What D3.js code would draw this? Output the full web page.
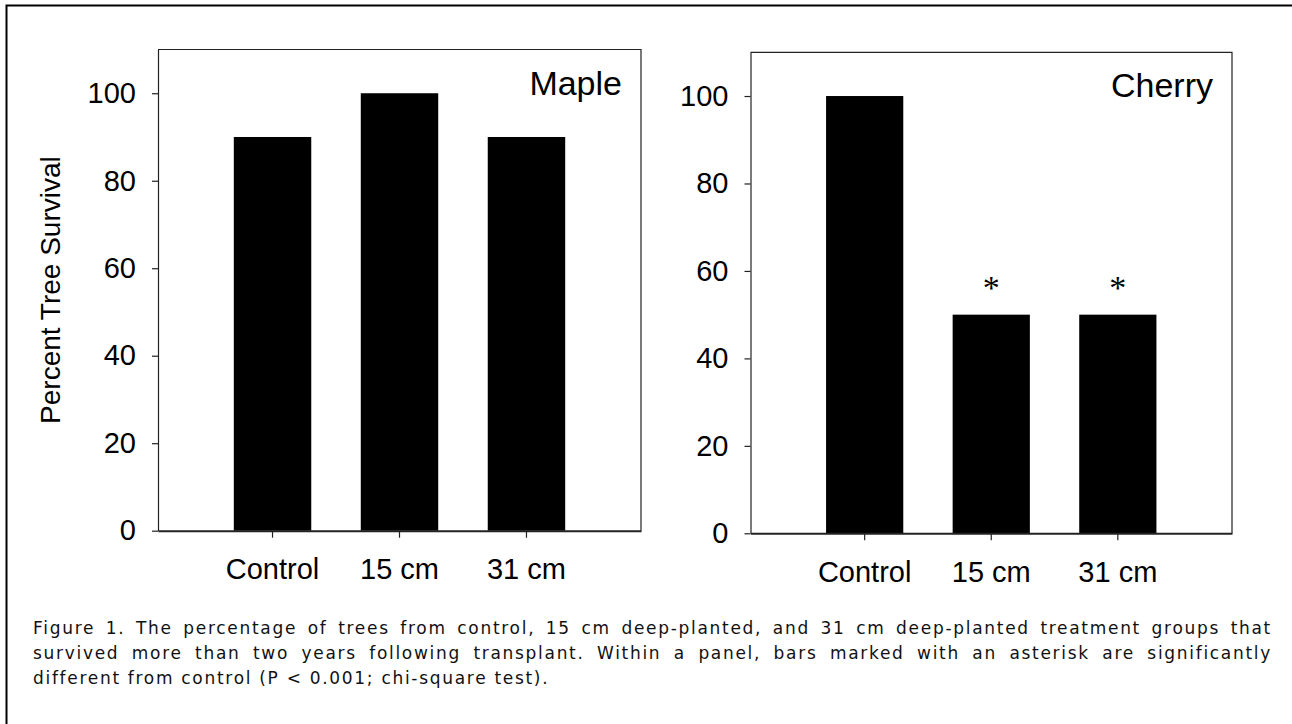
<!DOCTYPE html>
<html>
<head>
<meta charset="utf-8">
<script src="https://cdn.jsdelivr.net/npm/d3@7"></script>
<style>
  html, body { margin: 0; padding: 0; background: #fff; }
  #wrap { position: relative; width: 1292px; height: 724px; overflow: hidden; }
  svg { position: absolute; left: 0; top: 0; }
  .cap { position: absolute; left: 33px; width: 1239px; font-family: "DejaVu Sans", Verdana, sans-serif;
         font-size: 17px; letter-spacing: 1.7px; line-height: 25px; color: #111; white-space: nowrap; }
  .cap.j { text-align: justify; text-align-last: justify; white-space: normal; }
</style>
</head>
<body>
<div id="wrap"></div>
<script>
// ---- data ----
const categories = ["Control", "15 cm", "31 cm"];
const mapleValues = [90, 100, 90];
const cherryValues = [100, 50, 50];
const cherrySignificant = [false, true, true];
const mapleSignificant = [false, false, false];
const yTicks = [0, 20, 40, 60, 80, 100];
const yDomain = [0, 110];
const yTitle = "Percent Tree Survival";
const panelNames = ["Maple", "Cherry"];
const captionLines = [
  "Figure 1. The percentage of trees from control, 15 cm deep-planted, and 31 cm deep-planted treatment groups that",
  "survived more than two years following transplant. Within a panel, bars marked with an asterisk are significantly",
  "different from control (P < 0.001; chi-square test)."
];

// ---- layout ----
const W = 1292, H = 724;
const wrap = d3.select("#wrap");
const svg = wrap.append("svg").attr("width", W).attr("height", H);

// outer frame (only left and top edges fall inside the picture)
svg.append("rect").attr("x", 6.5).attr("y", 5.5).attr("width", 1400).attr("height", 800)
  .attr("fill", "none").attr("stroke", "#000").attr("stroke-width", 2);

const panels = [
  { name: panelNames[0], values: mapleValues, sig: mapleSignificant, x0: 158, x1: 641, y0: 49.5, y1: 530.7, title: true },
  { name: panelNames[1], values: cherryValues, sig: cherrySignificant, x0: 750.5, x1: 1232, y0: 52.3, y1: 533.3, title: false }
];

const sansFont = "'Liberation Sans', Arial, sans-serif";

panels.forEach(p => {
  const w = p.x1 - p.x0, h = p.y1 - p.y0;
  const g = svg.append("g").attr("transform", `translate(${p.x0},${p.y0})`);
  const x = d3.scaleBand().domain(categories).range([0, w]).paddingInner(0.39).paddingOuter(0.597);
  const y = d3.scaleLinear().domain(yDomain).range([h, 0]);

  // frame: top and right
  g.append("path").attr("d", `M0,0H${w}V${h}`).attr("fill", "none").attr("stroke", "#222").attr("stroke-width", 1.2);

  // bars
  g.selectAll("rect.bar").data(p.values).join("rect").attr("class", "bar")
    .attr("x", (d, i) => x(categories[i]))
    .attr("width", x.bandwidth())
    .attr("y", d => y(d))
    .attr("height", d => h - y(d))
    .attr("fill", "#000");

  // asterisks
  g.selectAll("text.sig").data(p.values.map((v, i) => ({ v, i })).filter(d => p.sig[d.i])).join("text")
    .attr("class", "sig")
    .attr("x", d => x(categories[d.i]) + x.bandwidth() / 2)
    .attr("y", d => y(d.v) - 16)
    .attr("text-anchor", "middle")
    .attr("font-family", "'Liberation Serif', 'Times New Roman', serif")
    .attr("font-size", 34)
    .text("*");

  // y axis
  const ya = g.append("g").call(d3.axisLeft(y).tickValues(yTicks).tickSize(6).tickPadding(16).tickSizeOuter(0));
  ya.select(".domain").attr("stroke", "#222").attr("stroke-width", 1.2);
  ya.selectAll(".tick line").attr("stroke", "#222").attr("stroke-width", 1.2);
  ya.selectAll(".tick text").attr("font-family", sansFont).attr("font-size", 29).attr("fill", "#000");

  // x axis
  const xa = g.append("g").attr("transform", `translate(0,${h})`)
    .call(d3.axisBottom(x).tickSize(7).tickPadding(21).tickSizeOuter(0));
  xa.select(".domain").attr("stroke", "#222").attr("stroke-width", 2);
  xa.selectAll(".tick line").attr("stroke", "#222").attr("stroke-width", 1.2);
  xa.selectAll(".tick text").attr("font-family", sansFont).attr("font-size", 29).attr("fill", "#000");

  // panel label
  g.append("text").attr("x", w - 19).attr("y", 45)
    .attr("text-anchor", "end").attr("font-family", sansFont).attr("font-size", 34).attr("fill", "#000")
    .text(p.name);

  if (p.title) {
    g.append("text")
      .attr("transform", `translate(${50 - p.x0},${h / 2}) rotate(-90)`)
      .attr("text-anchor", "middle").attr("dominant-baseline", "central")
      .attr("font-family", sansFont).attr("font-size", 28).attr("fill", "#000")
      .text(yTitle);
  }
});

// caption
captionLines.forEach((line, i) => {
  wrap.append("div")
    .attr("class", i < captionLines.length - 1 ? "cap j" : "cap")
    .style("top", (616 + i * 25) + "px")
    .text(line);
});
</script>
</body>
</html>
